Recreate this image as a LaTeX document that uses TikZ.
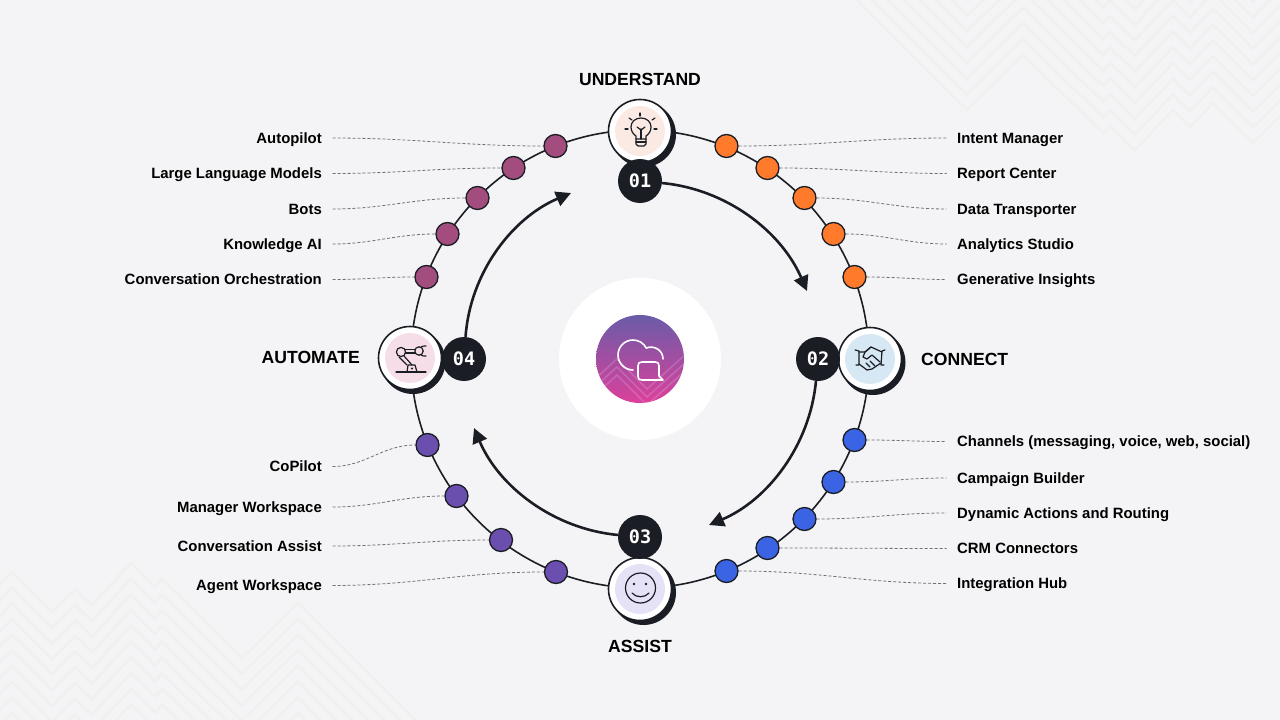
\documentclass[tikz,border=0pt]{standalone}
\usepackage{fontspec}
\setmainfont{Liberation Sans}
\newfontfamily\headfont{Liberation Sans}
\newfontfamily\badgefont{DejaVu Sans Mono}
\usetikzlibrary{arrows.meta}
\definecolor{pagebg}{HTML}{F4F4F6}
\definecolor{chevron}{HTML}{F1F0EE}
\definecolor{ink}{HTML}{1A1D24}
\definecolor{leadgray}{HTML}{6E7074}
\definecolor{dotorange}{HTML}{FF7A2B}
\definecolor{dotmagenta}{HTML}{A24D7E}
\definecolor{dotblue}{HTML}{3B64E5}
\definecolor{dotpurple}{HTML}{6A4FAE}
\definecolor{tintbulb}{HTML}{FBEAE3}
\definecolor{tintshake}{HTML}{D6E8F3}
\definecolor{tintrobot}{HTML}{F5DEE8}
\definecolor{tintsmile}{HTML}{E5E1F7}
\definecolor{hubtop}{HTML}{6A5CA8}
\definecolor{hubbottom}{HTML}{DC409C}
\newcommand{\chevrontop}{(857,0) -- (967,110) -- (1023,55) -- (1103,133) -- (1110,126) -- (1135,150) -- (1173,110) -- (1190,127) -- (1213,103) -- (1253,143) -- (1290,106)}
\newcommand{\chevronlow}{(-20,604) -- (12,572) -- (52,612) -- (75,589) -- (92,605) -- (131,563) -- (155,587) -- (162,579) -- (242,658) -- (298,603) -- (420,725)}
\tikzset{
	chevronline/.style={draw=chevron,line width=2.6pt,line join=miter},
	stageshadow/.style={circle,fill=ink,minimum size=65pt,inner sep=0pt},
	stagering/.style={circle,draw=ink,line width=1.6pt,fill=white,minimum size=63pt,inner sep=0pt},
	stagetint/.style={circle,minimum size=50pt,inner sep=0pt},
	badge/.style={circle,fill=ink,text=white,minimum size=44pt,inner sep=0pt,font=\badgefont\bfseries\fontsize{18.5}{20}\selectfont},
	tool/.style={circle,draw=ink,line width=1.3pt,minimum size=23pt,inner sep=0pt},
	toolright/.style={anchor=west,inner xsep=10.5pt,inner ysep=0pt,text height=10.4pt,text depth=0pt,text=black,font=\fontsize{14.9}{16}\selectfont\bfseries},
	toolleft/.style={toolright,anchor=east},
	heading/.style={text=black,inner sep=0pt,font=\headfont\bfseries\fontsize{17.6}{20}\selectfont},
	leader/.style={draw=leadgray,line width=0.8pt,dash pattern=on 3pt off 2pt},
	flowarrow/.style={draw=ink,line width=2.6pt,-{Triangle[length=15pt,width=15pt]}},
	iconline/.style={draw=ink,line width=1.2pt,line cap=round,line join=round},
	hubline/.style={draw=white,line width=1.6pt,line cap=round,line join=round},
}
\begin{document}
\begin{tikzpicture}[x=1pt,y=-1pt]
	\useasboundingbox (0,0) rectangle (1280,720);
	\fill[pagebg] (0,0) rectangle (1280,720);
	\begin{scope}
		\clip (0,0) rectangle (1280,720);
		% top right pattern
		\draw[chevronline] \chevrontop;
		\draw[chevronline,yshift=15.7pt] \chevrontop;
		\draw[chevronline,yshift=31.4pt] \chevrontop;
		\draw[chevronline,yshift=47.1pt] \chevrontop;
		\draw[chevronline,yshift=62.8pt] \chevrontop;
		\draw[chevronline,yshift=78.5pt] \chevrontop;
		\draw[chevronline,yshift=94.2pt] \chevrontop;
		\draw[chevronline,yshift=109.9pt] \chevrontop;
		\draw[chevronline,yshift=125.6pt] \chevrontop;
		\draw[chevronline,yshift=141.3pt] \chevrontop;
		% bottom left pattern
		\draw[chevronline] \chevronlow;
		\draw[chevronline,yshift=-15.7pt] \chevronlow;
		\draw[chevronline,yshift=-31.4pt] \chevronlow;
		\draw[chevronline,yshift=-47.1pt] \chevronlow;
		\draw[chevronline,yshift=-62.8pt] \chevronlow;
		\draw[chevronline,yshift=-78.5pt] \chevronlow;
		\draw[chevronline,yshift=-94.2pt] \chevronlow;
		\draw[chevronline,yshift=-109.9pt] \chevronlow;
		\draw[chevronline,yshift=-125.6pt] \chevronlow;
		\draw[chevronline,yshift=-141.3pt] \chevronlow;
	\end{scope}

	% ring
	\coordinate (hubcentre) at (640,359);
	\draw[ink,line width=1.6pt] (hubcentre) circle[radius=229];

	% hub
	\node[circle,fill=white,minimum size=162pt,inner sep=0pt] (hubdisc) at (hubcentre) {};
	\node[circle,top color=hubtop,bottom color=hubbottom,minimum size=88pt,inner sep=0pt] (hub) at (hubcentre) {};
	\begin{scope}
		\clip (hubcentre) circle[radius=44];
		\draw[white,opacity=0.16,line width=1.6pt] (595,379) -- (617,359) -- (647,389) -- (686,354);
		\draw[white,opacity=0.16,line width=1.6pt] (595,387) -- (617,367) -- (647,397) -- (686,362);
		\draw[white,opacity=0.16,line width=1.6pt] (595,395) -- (617,375) -- (647,405) -- (686,370);
	\end{scope}
	\draw[hubline] (633,370) arc[start angle=90, end angle=333, radius=15];
	\draw[hubline] (646.4,348) .. controls (654,345) and (663,350) .. (663,359);
	\draw[hubline] (642,362) -- (655,362) .. controls (658,362) and (659,363) .. (659,366) -- (659,376) -- (663,380) -- (642,380) .. controls (639,380) and (638,379) .. (638,376) -- (638,366) .. controls (638,363) and (639,362) .. (642,362);

	% stages
	\node[stageshadow] at (643.5,134.5) {};
	\node[stagering] (understand) at (640,131) {};
	\node[stagetint,fill=tintbulb] at (understand) {};
	\node[stageshadow] at (873,362.5) {};
	\node[stagering] (connect) at (870,359) {};
	\node[stagetint,fill=tintshake] at (connect) {};
	\node[stageshadow] at (643.5,592.5) {};
	\node[stagering] (assist) at (640,589) {};
	\node[stagetint,fill=tintsmile] at (assist) {};
	\node[stageshadow] at (413,361.5) {};
	\node[stagering] (automate) at (410,358) {};
	\node[stagetint,fill=tintrobot] at (automate) {};

	% bulb
	\draw[iconline] (636,139) -- (636,136) .. controls (633,134) and (631,131) .. (631,127) .. controls (631,122) and (635,118) .. (641,118) .. controls (647,118) and (651,122) .. (651,127) .. controls (651,131) and (649,134) .. (646,136) -- (646,139);
	\draw[iconline] (636,139) -- (646,139) -- (646,144) -- (644,146) -- (638,146) -- (636,144) -- cycle;
	\draw[iconline] (636,142) -- (646,142);
	\draw[iconline] (641,139) -- (641,129);
	\draw[iconline] (637,127) -- (641,130) -- (645,127);
	\draw[iconline] (640,113) -- (640,116);
	\draw[iconline] (629,118) -- (632,120);
	\draw[iconline] (652,120) -- (655,118);
	\draw[iconline] (625,129) -- (628,129);
	\draw[iconline] (654,129) -- (657,129);

	% handshake
	\draw[iconline] (855,350) -- (859,351) -- (859,365) -- (856,365);
	\draw[iconline] (885,350) -- (882,351) -- (881,365) -- (884,365);
	\draw[iconline] (859,352) -- (865,352) -- (871,347) -- (882,352);
	\draw[iconline] (859,364) -- (867,370) -- (872,369) -- (881,363);
	\draw[iconline] (871,347) -- (865,352) -- (863,357) -- (867,359) -- (872,355) -- (880,362);
	\draw[iconline] (866,363) -- (870,367);
	\draw[iconline] (870,361) -- (875,366);

	% smile
	\draw[iconline] (640.5,588) circle[radius=15];
	\fill[ink] (634,584) circle[radius=1.3];
	\fill[ink] (646,584) circle[radius=1.3];
	\draw[iconline] (632,593) .. controls (636,598) and (645,598) .. (649,593);

	% robot arm
	\draw[iconline] (396,372) -- (426,372);
	\draw[iconline] (407,372) -- (408,365) -- (415,365) -- (417,372);
	\fill[ink] (412,368.5) circle[radius=1.2];
	\draw[iconline] (401,352) circle[radius=4.6];
	\draw[iconline] (419,351) circle[radius=4.2];
	\draw[iconline] (405.5,349.5) -- (415,349.5);
	\draw[iconline] (405.5,353) -- (415,353);
	\draw[iconline] (399,357) -- (407,365);
	\draw[iconline] (404,356) -- (412,365);
	\draw[iconline] (421,347) .. controls (422,346) and (424,346) .. (426,346);
	\draw[iconline] (421,355) .. controls (422,356) and (424,356) .. (426,356);

	% badges
	\node[badge] (badgeone) at (640,181) {01};
	\node[badge] (badgetwo) at (818,359) {02};
	\node[badge] (badgethree) at (640,537) {03};
	\node[badge] (badgefour) at (464,359) {04};

	% arrows
	\coordinate (tipone) at (807,291);
	\coordinate (tiptwo) at (709,525);
	\coordinate (tipthree) at (474,428);
	\coordinate (tipfour) at (571,193);
	\draw[flowarrow] (badgeone) .. controls (726,189) and (781,231) .. (tipone);
	\draw[flowarrow] (badgetwo) .. controls (810,445) and (768,500) .. (tiptwo);
	\draw[flowarrow] (badgethree) .. controls (554,529) and (499,487) .. (tipthree);
	\draw[flowarrow] (badgefour) .. controls (470,273) and (512,218) .. (tipfour);

	% headings
	\node[heading] (headunderstand) at (640,79) {UNDERSTAND};
	\node[heading,anchor=west] (headconnect) at (921,359.5) {CONNECT};
	\node[heading] (headassist) at (640,646) {ASSIST};
	\node[heading,anchor=east] (headautomate) at (360,357) {AUTOMATE};

	% orange
	\node[tool,fill=dotorange] (dotintent) at (726.5,146) {};
	\node[tool,fill=dotorange] (dotreport) at (767.5,168) {};
	\node[tool,fill=dotorange] (dottransporter) at (804.5,198) {};
	\node[tool,fill=dotorange] (dotstudio) at (833.5,234) {};
	\node[tool,fill=dotorange] (dotinsights) at (854.5,277) {};
	\node[toolright] (labelintent) at (946.5,138) {Intent Manager};
	\node[toolright] (labelreport) at (946.5,173.5) {Report Center};
	\node[toolright] (labeltransporter) at (946.5,209) {Data Transporter};
	\node[toolright] (labelstudio) at (946.5,244) {Analytics Studio};
	\node[toolright] (labelinsights) at (946.5,279.5) {Generative Insights};
	\draw[leader] (dotintent) to[out=0,in=180] (labelintent.west);
	\draw[leader] (dotreport) to[out=0,in=180] (labelreport.west);
	\draw[leader] (dottransporter) to[out=0,in=180] (labeltransporter.west);
	\draw[leader] (dotstudio) to[out=0,in=180] (labelstudio.west);
	\draw[leader] (dotinsights) to[out=0,in=180] (labelinsights.west);

	% blue
	\node[tool,fill=dotblue] (dotchannels) at (854.5,440) {};
	\node[tool,fill=dotblue] (dotcampaign) at (833.5,482) {};
	\node[tool,fill=dotblue] (dotrouting) at (804.5,519) {};
	\node[tool,fill=dotblue] (dotcrm) at (767.5,548) {};
	\node[tool,fill=dotblue] (dothub) at (726.5,571) {};
	\node[toolright] (labelchannels) at (946.5,441.5) {Channels (messaging, voice, web, social)};
	\node[toolright] (labelcampaign) at (946.5,478) {Campaign Builder};
	\node[toolright] (labelrouting) at (946.5,513) {Dynamic Actions and Routing};
	\node[toolright] (labelcrm) at (946.5,548.5) {CRM Connectors};
	\node[toolright] (labelhub) at (946.5,583.5) {Integration Hub};
	\draw[leader] (dotchannels) to[out=0,in=180] (labelchannels.west);
	\draw[leader] (dotcampaign) to[out=0,in=180] (labelcampaign.west);
	\draw[leader] (dotrouting) to[out=0,in=180] (labelrouting.west);
	\draw[leader] (dotcrm) to[out=0,in=180] (labelcrm.west);
	\draw[leader] (dothub) to[out=0,in=180] (labelhub.west);

	% magenta
	\node[tool,fill=dotmagenta] (dotautopilot) at (555.5,146) {};
	\node[tool,fill=dotmagenta] (dotmodels) at (513.5,168) {};
	\node[tool,fill=dotmagenta] (dotbots) at (477.5,198) {};
	\node[tool,fill=dotmagenta] (dotknowledge) at (447.5,234) {};
	\node[tool,fill=dotmagenta] (dotorchestration) at (426.5,277) {};
	\node[toolleft] (labelautopilot) at (332.5,138) {Autopilot};
	\node[toolleft] (labelmodels) at (332.5,173.5) {Large Language Models};
	\node[toolleft] (labelbots) at (332.5,209) {Bots};
	\node[toolleft] (labelknowledge) at (332.5,244) {Knowledge AI};
	\node[toolleft] (labelorchestration) at (332.5,279.5) {Conversation Orchestration};
	\draw[leader] (labelautopilot.east) to[out=0,in=180] (dotautopilot);
	\draw[leader] (labelmodels.east) to[out=0,in=180] (dotmodels);
	\draw[leader] (labelbots.east) to[out=0,in=180] (dotbots);
	\draw[leader] (labelknowledge.east) to[out=0,in=180] (dotknowledge);
	\draw[leader] (labelorchestration.east) to[out=0,in=180] (dotorchestration);

	% purple
	\node[tool,fill=dotpurple] (dotcopilot) at (427.5,445) {};
	\node[tool,fill=dotpurple] (dotmanager) at (456.5,496) {};
	\node[tool,fill=dotpurple] (dotassist) at (501,540) {};
	\node[tool,fill=dotpurple] (dotagent) at (556,572) {};
	\node[toolleft] (labelcopilot) at (332.5,466.5) {CoPilot};
	\node[toolleft] (labelmanager) at (332.5,507) {Manager Workspace};
	\node[toolleft] (labelassist) at (332.5,546) {Conversation Assist};
	\node[toolleft] (labelagent) at (332.5,585.5) {Agent Workspace};
	\draw[leader] (labelcopilot.east) to[out=0,in=180] (dotcopilot);
	\draw[leader] (labelmanager.east) to[out=0,in=180] (dotmanager);
	\draw[leader] (labelassist.east) to[out=0,in=180] (dotassist);
	\draw[leader] (labelagent.east) to[out=0,in=180] (dotagent);
\end{tikzpicture}
\end{document}
